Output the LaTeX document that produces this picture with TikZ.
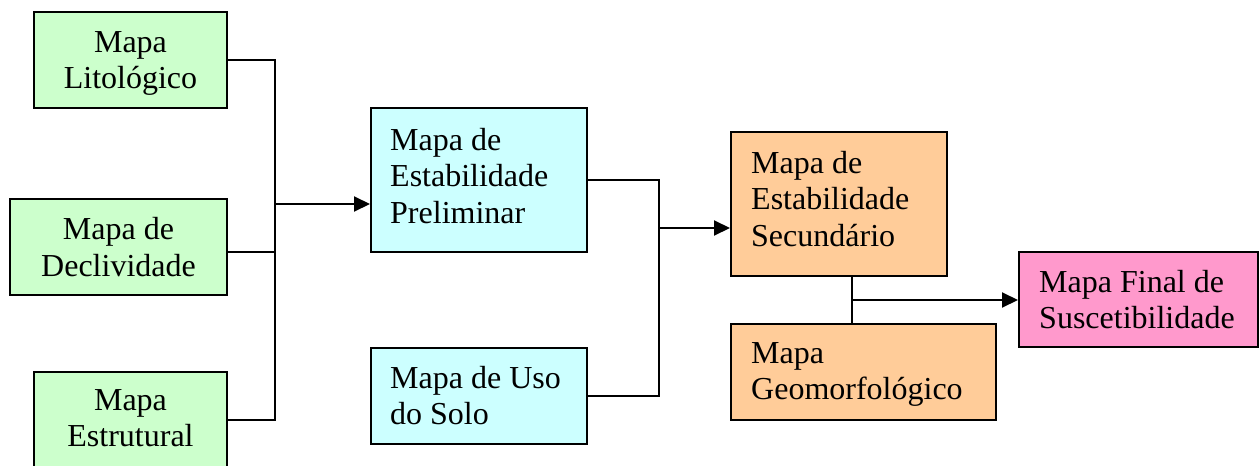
\documentclass[tikz,border=0pt]{standalone}
\usepackage{fontspec}
\setmainfont{Liberation Serif}
\usetikzlibrary{arrows.meta}
\definecolor{cgreen}{HTML}{CCFFCC}
\definecolor{ccyan}{HTML}{CCFFFF}
\definecolor{corange}{HTML}{FFCC99}
\definecolor{cpink}{HTML}{FF99CC}
\begin{document}
\begin{tikzpicture}[x=1pt,y=-1pt,
  box/.style={draw=black, line width=2pt, inner sep=0pt, anchor=center},
  txt/.style={inner sep=0pt, font=\fontsize{32}{36.5}\selectfont},
  ctxt/.style={txt, align=center, anchor=north},
  ltxt/.style={txt, align=left, anchor=north west},
  conn/.style={line width=2pt, draw=black},
  arr/.style={conn, -{Triangle[length=16pt,width=15pt]}}]
\useasboundingbox (0,0) rectangle (1259,466);

% boxes
\node[box, fill=cgreen, minimum width=193pt, minimum height=96pt] (lito) at (130.5,60) {};
\node[box, fill=cgreen, minimum width=217pt, minimum height=96pt] (decl) at (118.5,247) {};
\node[box, fill=cgreen, minimum width=193pt, minimum height=96pt] (estr) at (130.5,420) {};
\node[box, fill=ccyan, minimum width=216pt, minimum height=144pt] (prel) at (479,180) {};
\node[box, fill=ccyan, minimum width=216pt, minimum height=96pt] (uso) at (479,396) {};
\node[box, fill=corange, minimum width=216pt, minimum height=144pt] (sec) at (839,204) {};
\node[box, fill=corange, minimum width=265pt, minimum height=96pt] (geo) at (863.5,372) {};
\node[box, fill=cpink, minimum width=239pt, minimum height=95pt] (fin) at (1138.5,299.5) {};

% texts
\node[ctxt] (litoT) at ([yshift=-20pt]lito.north) {Mapa\\Litológico};
\node[ctxt] (declT) at ([yshift=-19.5pt]decl.north) {Mapa de\\Declividade};
\node[ctxt] (estrT) at ([yshift=-18pt]estr.north) {Mapa\\Estrutural};
\node[ltxt] (prelT) at ([xshift=20pt,yshift=-21pt]prel.north west) {Mapa de\\Estabilidade\\Preliminar};
\node[ltxt] (usoT) at ([xshift=20pt,yshift=-19pt]uso.north west) {Mapa de Uso\\do Solo};
\node[ltxt] (secT) at ([xshift=21pt,yshift=-20pt]sec.north west) {Mapa de\\Estabilidade\\Secundário};
\node[ltxt] (geoT) at ([xshift=21pt,yshift=-19pt]geo.north west) {Mapa\\Geomorfológico};
\node[ltxt] (finT) at ([xshift=21pt,yshift=-19pt]fin.north west) {Mapa Final de\\Suscetibilidade};

% junction points
\coordinate (j1) at (275,204);
\coordinate (j2) at (659,228);
\coordinate (j3) at (852,300);

% connectors
\draw[conn] (lito.east) -| (j1);
\draw[conn] (estr.east) -| (j1);
\draw[conn] ([yshift=-5pt]decl.east) -- ([yshift=-5pt]decl.east -| j1);
\draw[arr] (j1) -- (j1 -| prel.west);

\draw[conn] (prel.east) -| (j2);
\draw[conn] (uso.east) -| (j2);
\draw[arr] (j2) -- (j2 -| sec.west);

\draw[conn] (j3 |- sec.south) -- (j3 |- geo.north);
\draw[arr] (j3) -- (j3 -| fin.west);
\end{tikzpicture}
\end{document}
